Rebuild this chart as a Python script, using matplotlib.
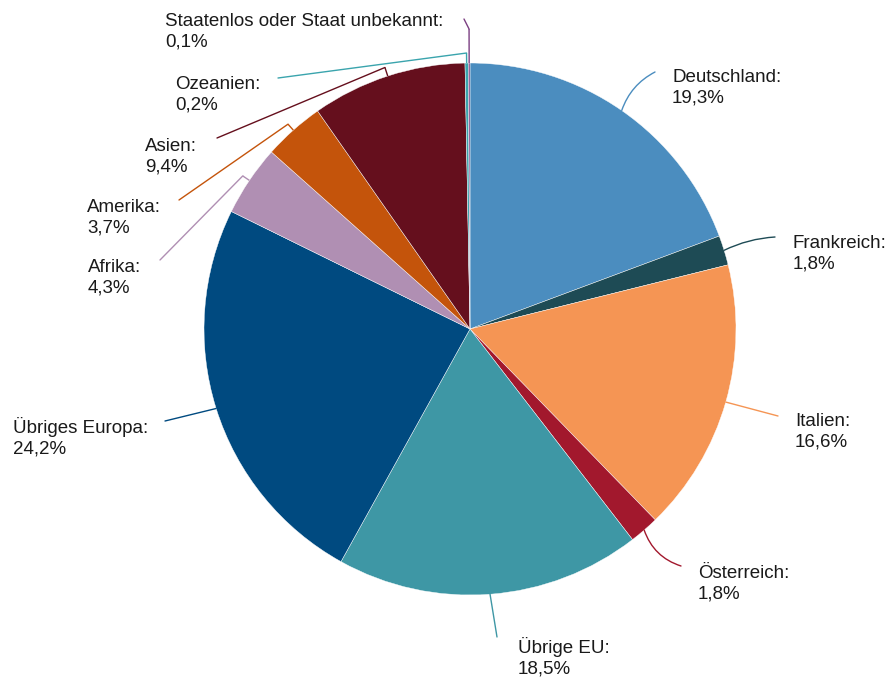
import numpy as np
import matplotlib.pyplot as plt

plt.rcParams['font.family'] = ['Liberation Sans', 'DejaVu Sans']

W, H = 892, 677

# Anteile nach Herkunft (%), im Uhrzeigersinn ab 12 Uhr
regionen = ['Deutschland', 'Frankreich', 'Italien', 'Österreich', 'Übrige EU',
            'Übriges Europa', 'Afrika', 'Amerika', 'Asien', 'Ozeanien',
            'Staatenlos oder Staat unbekannt']
anteile = [19.3, 1.8, 16.6, 1.8, 18.5, 24.2, 4.3, 3.7, 9.4, 0.2, 0.1]
farben = ['#4b8dbf', '#1e4b55', '#f59554', '#a2182d', '#3e97a5',
          '#004a80', '#b08fb3', '#c4540b', '#650f1d', '#3aa4ad', '#7b3f82']

# Beschriftung: Textposition (Pixel, y von oben), Linienende, Knickabstand, Krümmung
text_pos = [(672, 88), (793, 254), (795, 432), (698, 584), (518, 657),
            (13, 437), (88, 278), (87, 218), (145, 157), (175, 95), (165, 32)]
linien_ende = [(655, 72), (775, 237), (778, 416), (681, 566), (497, 637),
               (165, 421), (160, 260), (179, 200), (217, 138), (278, 78), (464, 19)]
knick = [0, 0, 0, 0, 0, 0, 8, 8, 9, 10, 34]
kruemmung = [0.2, 0.1, 0.0, -0.25, 0.0, 0.0, 0.0, 0.0, 0.0, 0.0, 0.0]

mitte = (470, H - 329)
radius = 266


def px(p):
    return (p[0], H - p[1])


fig = plt.figure(figsize=(W / 100, H / 100), dpi=100)
ax = fig.add_axes([0, 0, 1, 1])

wedges, _ = ax.pie(anteile, colors=farben, startangle=90, counterclock=False,
                   center=mitte, radius=radius,
                   wedgeprops=dict(linewidth=0.3, edgecolor='white'))
ax.set_xlim(0, W)
ax.set_ylim(0, H)
ax.set_aspect('equal')
ax.axis('off')

for i, w in enumerate(wedges):
    winkel = np.radians((w.theta1 + w.theta2) / 2)
    richtung = np.array([np.cos(winkel), np.sin(winkel)])
    anker = np.array(mitte) + radius * richtung
    start = anker
    if knick[i]:
        ecke = anker + knick[i] * richtung
        ax.plot([anker[0], ecke[0]], [anker[1], ecke[1]], color=farben[i], lw=1.0,
                solid_capstyle='butt')
        start = ecke
    ax.annotate('', xy=start, xytext=px(linien_ende[i]),
                arrowprops=dict(arrowstyle='-', color=farben[i], lw=1.0,
                                shrinkA=0, shrinkB=0,
                                connectionstyle=f'arc3,rad={kruemmung[i]}'))
    wert = f'{anteile[i]:.1f}'.replace('.', ',')
    ax.text(*px(text_pos[i]), f'{regionen[i]}:\n{wert}%', ha='left', va='center',
            fontsize=13.5, color='#1a1a1a', linespacing=1.25)

fig.savefig('out.png', dpi=100)
